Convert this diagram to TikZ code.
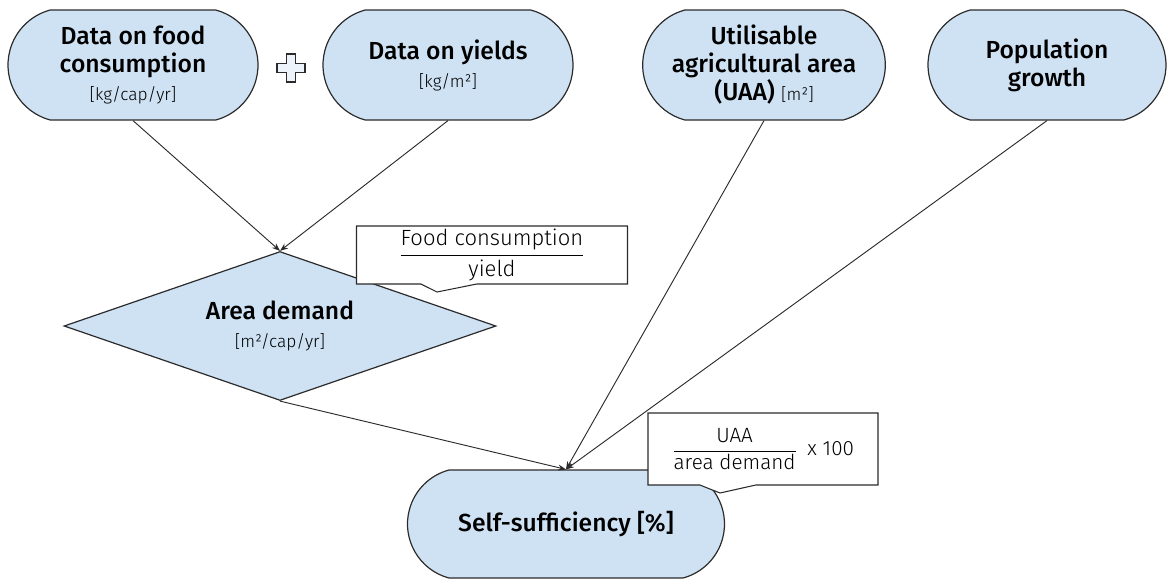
\documentclass[tikz,border=0pt]{standalone}
\usepackage{fontspec}
\usepackage{amsmath}
\setmainfont{Fira Sans}[BoldFont={Fira Sans Medium}]
\newfontfamily\thinfont{Fira Sans Light}
\usetikzlibrary{
    shapes.geometric,
    shapes.misc,
    shapes.callouts,
    arrows.meta
}
\definecolor{boxblue}{HTML}{CFE2F3}
\definecolor{edgegray}{HTML}{2B2B2B}
\newcommand{\unittext}[1]{{\thinfont\mdseries\fontsize{13}{15}\selectfont #1}}
\tikzset{databox/.style={rounded rectangle, rounded rectangle arc length=150, draw=edgegray, fill=boxblue, line width=0.9pt, minimum height=82.5pt, inner sep=0pt, align=center, font=\bfseries\fontsize{18.5}{21}\selectfont}}
\tikzset{calcbox/.style={diamond, aspect=2.9, draw=edgegray, fill=boxblue, line width=0.9pt, inner sep=0pt, align=center, font=\bfseries\fontsize{18.5}{21}\selectfont}}
\tikzset{notebox/.style={rectangle callout, draw=edgegray, fill=white, line width=0.8pt, callout pointer width=42pt, inner sep=0pt, font=\thinfont\fontsize{16.5}{19}\selectfont}}
\tikzset{flow/.style={-{Stealth[length=6pt, width=4.5pt]}, draw=edgegray, line width=0.7pt}}

\begin{document}
\begin{tikzpicture}[x=0.75pt, y=-0.75pt]
    \useasboundingbox (0, 0) rectangle (1168, 579);
    \node[databox, minimum width=187.5pt] (foodcons) at (133, 65) {Data on food\\consumption\\\unittext{[kg/cap/yr]}};
    \node[databox, minimum width=187.5pt] (yields) at (448, 65) {Data on yields\\\unittext{[kg/m²]}};
    \node[databox, minimum width=182pt] (uaa) at (764, 65) {Utilisable\\agricultural area\\(UAA) \unittext{[m²]}};
    \node[databox, minimum width=178.5pt] (popgrowth) at (1047, 65) {Population\\growth};
    \node[calcbox, minimum width=324pt, minimum height=111.75pt] (areadem) at (280, 326) {Area demand\\\unittext{[m²/cap/yr]}};
    \node[databox, minimum width=237.75pt, minimum height=81pt] (selfsuff) at (566, 524) {Self-sufficiency [\%]};
    \draw[draw=edgegray, fill=boxblue!40, line width=0.8pt]
    (286.5, 54) -- (295.5, 54) -- (295.5, 63.5) -- (305, 63.5) -- (305, 72.5) -- (295.5, 72.5) -- (295.5, 82)
    -- (286.5, 82) -- (286.5, 72.5) -- (277, 72.5) -- (277, 63.5) -- (286.5, 63.5) -- cycle;
    \draw[flow] (foodcons.south) -- (areadem.north);
    \draw[flow] (yields.south) -- (areadem.north);
    \draw[flow] (areadem.south) -- (selfsuff.north);
    \draw[flow] (uaa.south) -- (selfsuff.north);
    \draw[flow] (popgrowth.south) -- (selfsuff.north);
    \coordinate (fractip) at (437, 292);
    \coordinate (pcttip) at (720, 493);
    \node[notebox, minimum width=203.25pt, minimum height=43.5pt, callout absolute pointer=(fractip)] (fracnote) at (492, 255) {$\dfrac{\text{Food consumption}}{\text{yield}}$};
    \node[notebox, minimum width=172.5pt, minimum height=54pt, callout absolute pointer=(pcttip), font=\thinfont\fontsize{15.5}{18}\selectfont] (pctnote) at (763, 449) {$\dfrac{\text{UAA}}{\text{area demand}}$\enspace x 100\hspace{6pt}};
\end{tikzpicture}
\end{document}
